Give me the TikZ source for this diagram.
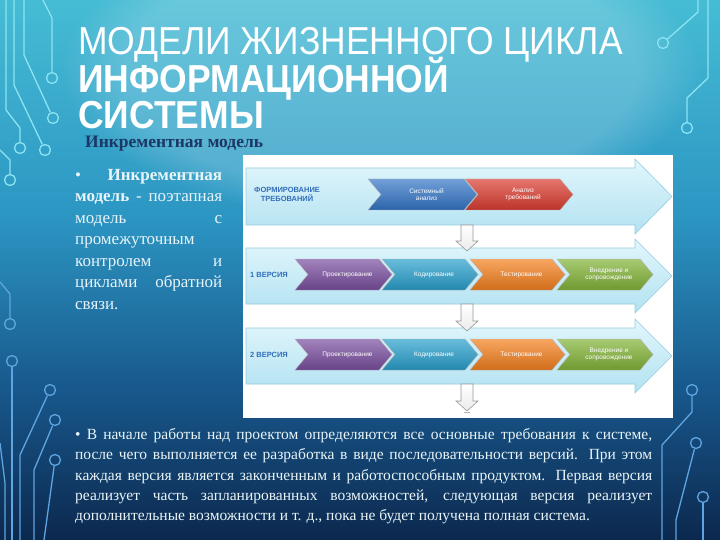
\documentclass[tikz,border=0pt]{standalone}
\usepackage{fontspec}
\setmainfont{Liberation Serif}
\setsansfont{Liberation Sans}
\usetikzlibrary{fadings}
\definecolor{bgA}{RGB}{12,40,78}
\definecolor{bgB}{RGB}{24,88,140}
\definecolor{bgC}{RGB}{44,150,195}
\definecolor{bgD}{RGB}{70,188,212}
\pgfdeclareverticalshading{bgsh}{100bp}{color(0bp)=(bgA); color(25bp)=(bgA); color(39bp)=(bgB); color(55bp)=(bgC); color(75bp)=(bgD); color(100bp)=(bgD)}
\definecolor{trtop}{RGB}{140,228,242}
\definecolor{trbot}{RGB}{95,165,225}
\definecolor{navy}{RGB}{28,55,102}
\definecolor{bandlbl}{RGB}{50,110,185}
\definecolor{lighttext}{RGB}{232,244,248}
\begin{document}
\begin{tikzpicture}[x=1pt,y=-1pt,
  trace/.style={draw=#1, line width=1.3pt, line join=round},
  trace/.default=trtop,
  pad/.style={circle, draw=#1, line width=1.3pt, minimum size=11pt, inner sep=0pt},
  pad/.default=trtop,
  bandsty/.style={top color={rgb,255:red,226;green,246;blue,252}, bottom color={rgb,255:red,178;green,226;blue,241}, draw={rgb,255:red,150;green,205;blue,225}, line width=0.6pt},
  chevsty/.style={draw=white!70!black, line width=0.4pt},
  chevtxt/.style={text=white, font=\sffamily\fontsize{6.5}{7.5}\selectfont, align=center, inner sep=0pt},
  bandtxt/.style={text=bandlbl, font=\sffamily\bfseries\fontsize{7.5}{9}\selectfont, align=center, inner sep=0pt},
  darr/.style={top color=white, bottom color=black!8, draw=black!40, line width=0.6pt},
  titlel/.style={text=white, anchor=base west, inner sep=0pt, text depth=0pt}
]
\useasboundingbox (0,0) rectangle (720,540);
% background
\path[shading=bgsh] (0,0) rectangle (720,540);
\fill[white, opacity=0.18, path fading=circle with fuzzy edge 20 percent] (380,70) ellipse (320 and 150);

% circuit traces, left top
\node[pad] (lt1) at (52,78) {};
\draw[trace] (43,0) -- (52,18) -- (lt1);
\node[pad] (lt2) at (53,118) {};
\draw[trace] (24,0) -- (24,55) -- (lt2);
\node[pad] (lt3) at (45,150) {};
\draw[trace] (14,0) -- (14,85) -- (lt3);
\node[pad] (lt4) at (20,148) {};
\draw[trace] (6,0) -- (6,110) -- (20,128) -- (lt4);
\node[pad] (lt5) at (10,180) {};
\draw[trace] (0,150) -- (10,160) -- (lt5);
% left middle / bottom
\node[pad=trbot] (lm1) at (10,324) {};
\draw[trace=trbot] (0,282) -- (10,294) -- (lm1);
\node[pad=trbot] (lb1) at (12,361) {};
\draw[trace=trbot] (lb1) -- (12,540);
\node[pad=trbot] (lb2) at (50,390) {};
\draw[trace=trbot] (lb2) -- (20,455) -- (20,540);
\node[pad=trbot] (lb3) at (55,420) {};
\draw[trace=trbot] (lb3) -- (34,470) -- (34,540);
\node[pad=trbot] (lb4) at (55,460) {};
\draw[trace=trbot] (lb4) -- (44,540);
\draw[trace=trbot] (0,443) -- (5,483) -- (5,540);
% right top
\node[pad] (rt1) at (663,43) {};
\draw[trace] (698,0) -- (698,12) -- (rt1);
\node[pad] (rt2) at (687,128) {};
\draw[trace] (708,0) -- (708,78) -- (687,98) -- (rt2);
% right bottom
\node[pad=trbot] (rb1) at (692,390) {};
\draw[trace=trbot] (rb1) -- (692,412) -- (662,445) -- (662,540);
\node[pad=trbot] (rb2) at (696,443) {};
\draw[trace=trbot] (rb2) -- (676,520) -- (676,540);
\node[pad=trbot] (rb3) at (703,497) {};
\draw[trace=trbot] (rb3) -- (703,540);

% title
\node[titlel, font=\sffamily\fontsize{39}{39}\selectfont] (t1) at (78,55) {\scalebox{0.91}[1]{МОДЕЛИ ЖИЗНЕННОГО ЦИКЛА}};
\node[titlel, font=\sffamily\bfseries\fontsize{39}{39}\selectfont] (t2) at (78,93) {\scalebox{0.91}[1]{ИНФОРМАЦИОННОЙ}};
\node[titlel, font=\sffamily\bfseries\fontsize{39}{39}\selectfont] (t3) at (78,129) {\scalebox{0.91}[1]{СИСТЕМЫ}};
\node[anchor=base west, inner sep=0pt, text=navy, font=\bfseries\fontsize{17.5}{17.5}\selectfont] (sub) at (85,148) {Инкрементная модель};

% left text
\node[anchor=north west, inner sep=0pt, text=lighttext, align=left, font=\fontsize{17}{21.5}\selectfont] (ltext) at (75,169) {%
\makebox[147pt][s]{• \textbf{Инкрементная}}\\
\makebox[147pt][s]{\textbf{модель} - поэтапная}\\
\makebox[147pt][s]{модель с}\\
промежуточным\\
\makebox[147pt][s]{контролем и}\\
\makebox[147pt][s]{циклами обратной}\\
связи.};

% bottom text
\node[anchor=north west, inner sep=0pt, text=lighttext, align=left, font=\fontsize{15.5}{20.4}\selectfont] (btext) at (75,428) {%
\makebox[577pt][s]{• В начале работы над проектом определяются все основные требования к системе,}\\
\makebox[577pt][s]{после чего выполняется ее разработка в виде последовательности версий. При этом}\\
\makebox[577pt][s]{каждая версия является законченным и работоспособным продуктом. Первая версия}\\
\makebox[577pt][s]{реализует часть запланированных возможностей, следующая версия реализует}\\
дополнительные возможности и т. д., пока не будет получена полная система.};

% inner white picture
\fill[white] (243,155) rectangle (673,418);

% bands
\path[bandsty] (246,168) -- (635,168) -- (635,159) -- (672,196.5) -- (635,234) -- (635,225) -- (246,225) -- cycle;
\path[bandsty] (246,248) -- (635,248) -- (635,239) -- (672,276) -- (635,313) -- (635,304) -- (246,304) -- cycle;
\path[bandsty] (246,328) -- (635,328) -- (635,319) -- (672,356) -- (635,393) -- (635,384) -- (246,384) -- cycle;

% down arrows
\path[darr] (461,225) -- (473,225) -- (473,241) -- (478,241) -- (467,251) -- (456,241) -- (461,241) -- cycle;
\path[darr] (461,304) -- (473,304) -- (473,321) -- (478,321) -- (467,331) -- (456,321) -- (461,321) -- cycle;
\path[darr] (461,384) -- (473,384) -- (473,401) -- (478,401) -- (467,411) -- (456,401) -- (461,401) -- cycle;
\node[inner sep=0pt, font=\fontsize{8}{8}\selectfont] (dots) at (467,413) {...};

% chevrons
\newcommand\chev[6]{%
  \path[chevsty, top color=#5!70!white, bottom color=#5!85!black] (#1,#3) -- (#2-13,#3) -- (#2,{(#3+#4)/2}) -- (#2-13,#4) -- (#1,#4) -- (#1+13,{(#3+#4)/2}) -- cycle;
  \node[chevtxt] (#6) at ({(#1+#2)/2+4},{(#3+#4)/2}) {};}
\definecolor{cblue}{RGB}{52,118,200}
\definecolor{cred}{RGB}{220,60,48}
\definecolor{cpurp}{RGB}{122,78,160}
\definecolor{cteal}{RGB}{40,160,205}
\definecolor{corange}{RGB}{245,128,30}
\definecolor{cgreen}{RGB}{130,180,55}
\chev{368}{477}{179}{210}{cblue}{c11}
\chev{465}{573}{179}{210}{cred}{c12}
\chev{295}{392}{259}{290}{cpurp}{c21}
\chev{382}{478}{259}{290}{cteal}{c22}
\chev{470}{565}{259}{290}{corange}{c23}
\chev{557}{653}{259}{290}{cgreen}{c24}
\chev{295}{392}{339}{370}{cpurp}{c31}
\chev{382}{478}{339}{370}{cteal}{c32}
\chev{470}{565}{339}{370}{corange}{c33}
\chev{557}{653}{339}{370}{cgreen}{c34}
\node[chevtxt] at (c11) {Системный\\анализ};
\node[chevtxt] at (c12) {Анализ\\требований};
\node[chevtxt] at (c21) {Проектирование};
\node[chevtxt] at (c22) {Кодирование};
\node[chevtxt] at (c23) {Тестирование};
\node[chevtxt] at (c24) {Внедрение и\\сопровождение};
\node[chevtxt] at (c31) {Проектирование};
\node[chevtxt] at (c32) {Кодирование};
\node[chevtxt] at (c33) {Тестирование};
\node[chevtxt] at (c34) {Внедрение и\\сопровождение};

% band labels
\node[bandtxt] (l1) at (287,194) {ФОРМИРОВАНИЕ\\ТРЕБОВАНИЙ};
\node[bandtxt, anchor=west] (l2) at (250,275) {1 ВЕРСИЯ};
\node[bandtxt, anchor=west] (l3) at (250,355) {2 ВЕРСИЯ};
\end{tikzpicture}
\end{document}
